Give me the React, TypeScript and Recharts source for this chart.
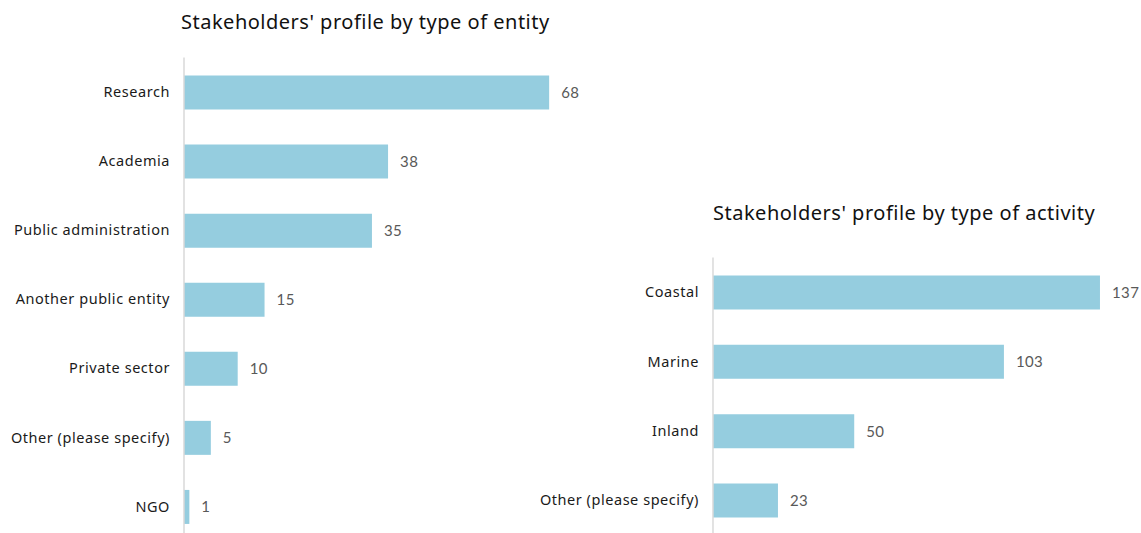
import { BarChart, Bar, XAxis, YAxis, LabelList } from "recharts";

const entityCategories = [
  "Research",
  "Academia",
  "Public administration",
  "Another public entity",
  "Private sector",
  "Other (please specify)",
  "NGO",
];
const entityValues = [68, 38, 35, 15, 10, 5, 1];

const activityCategories = ["Coastal", "Marine", "Inland", "Other (please specify)"];
const activityValues = [137, 103, 50, 23];

const BAR_COLOR = "#95CDDF";
const AXIS_COLOR = "#D9D9D9";
const FONT = "'Noto Sans', sans-serif";
const VALUE_FONT = "Lato, 'Noto Sans', sans-serif";

const entityData = entityCategories.map((name, i) => ({ name, value: entityValues[i] }));
const activityData = activityCategories.map((name, i) => ({ name, value: activityValues[i] }));

function ProfileChart({
  data,
  domainMax,
  plotWidth,
  axisWidth,
  top,
  height,
}: {
  data: { name: string; value: number }[];
  domainMax: number;
  plotWidth: number;
  axisWidth: number;
  top: number;
  height: number;
}) {
  return (
    <BarChart
      layout="vertical"
      width={axisWidth + plotWidth + 10}
      height={height}
      data={data}
      margin={{ top, right: 10, bottom: 0, left: 0 }}
      barSize={34}
    >
      <XAxis type="number" hide domain={[0, domainMax]} />
      <YAxis
        type="category"
        dataKey="name"
        width={axisWidth}
        tickLine={false}
        tickSize={0}
        tickMargin={14}
        axisLine={{ stroke: AXIS_COLOR, strokeWidth: 1.5 }}
        tick={{ fill: "#1a1a1a", fontSize: 14.5, fontFamily: FONT, letterSpacing: 0.55 }}
        interval={0}
      />
      <Bar dataKey="value" fill={BAR_COLOR} isAnimationActive={false}>
        <LabelList
          dataKey="value"
          position="right"
          offset={12}
          fill="#595959"
          fontSize={15}
          fontFamily={VALUE_FONT}
          letterSpacing={0.4}
        />
      </Bar>
    </BarChart>
  );
}

export default function App() {
  const titleStyle: React.CSSProperties = {
    position: "absolute",
    fontFamily: FONT,
    fontSize: 20,
    letterSpacing: 0.5,
    color: "#111",
    whiteSpace: "nowrap",
    lineHeight: "24px",
  };
  return (
    <div
      style={{
        position: "absolute",
        left: 0,
        top: 0,
        width: 1141,
        height: 533,
        overflow: "hidden",
        background: "#fff",
      }}
    >
      <div style={{ ...titleStyle, left: 181, top: 10 }}>
        Stakeholders' profile by type of entity
      </div>
      <div style={{ ...titleStyle, left: 713, top: 201 }}>
        Stakeholders' profile by type of activity
      </div>
      <div style={{ position: "absolute", left: 0, top: 0 }}>
        <ProfileChart
          data={entityData}
          domainMax={80}
          plotWidth={429.6}
          axisWidth={184}
          top={57.5}
          height={541}
        />
      </div>
      <div style={{ position: "absolute", left: 513, top: 0 }}>
        <ProfileChart
          data={activityData}
          domainMax={150}
          plotWidth={423.7}
          axisWidth={200}
          top={257.5}
          height={535}
        />
      </div>
    </div>
  );
}
